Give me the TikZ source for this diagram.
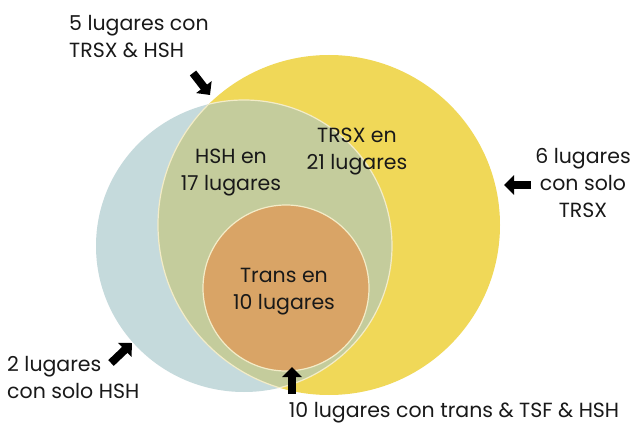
\documentclass[tikz,border=0pt]{standalone}
\usepackage{fontspec}
\setmainfont{Poppins}
\usetikzlibrary{arrows.meta}
\definecolor{cblue}{RGB}{197,218,220}
\definecolor{cyellow}{RGB}{240,216,88}
\definecolor{cgreen}{RGB}{196,204,156}
\definecolor{corange}{RGB}{217,164,102}
\definecolor{cline}{RGB}{243,236,200}
\definecolor{ctext}{RGB}{25,25,25}
\begin{document}
\begin{tikzpicture}[x=1pt,y=1pt,
  lbl/.style={font=\fontsize{20.5}{27}\selectfont, text=ctext, inner sep=0pt},
  blockarrow/.style={line width=8pt, -{Triangle[length=10pt,width=19pt]}, black},
  outline/.style={draw=cline, line width=1.2pt}]
\useasboundingbox (0,0) rectangle (632,429);
\fill[white] (0,0) rectangle (632,429);
\coordinate (B) at (244,183);
\coordinate (Y) at (329,204);
\coordinate (O) at (286,141);
\fill[cblue] (B) ellipse [x radius=148, y radius=146];
\fill[cyellow] (Y) ellipse [x radius=171, y radius=170];
\begin{scope}
  \clip (B) ellipse [x radius=148, y radius=146];
  \fill[cgreen] (Y) ellipse [x radius=171, y radius=170];
  \draw[outline] (Y) ellipse [x radius=171, y radius=170];
\end{scope}
\begin{scope}
  \clip (Y) ellipse [x radius=171, y radius=170];
  \draw[outline] (B) ellipse [x radius=148, y radius=146];
\end{scope}
\fill[corange, outline] (O) circle (83);

\node[lbl, align=left, anchor=west] (t5) at (69,392) {5 lugares con\\TRSX \& HSH};
\node[lbl, align=center] (thsh) at (231,256) {HSH en\\17 lugares};
\node[lbl, align=center] (ttrsx) at (357,277) {TRSX en\\21 lugares};
\node[lbl, align=center] (ttrans) at (284,137) {Trans en\\10 lugares};
\node[lbl, align=center] (t6) at (583,246) {6 lugares\\con solo\\TRSX};
\node[lbl, align=left, anchor=west] (t2) at (7,51) {2 lugares\\con solo HSH};
\node[lbl] (t10) at (454,16) {10 lugares con trans \& TSF \& HSH};

\coordinate (a1s) at (193,356);
\coordinate (a1e) at (210,334);
\coordinate (a2s) at (531,244);
\coordinate (a2e) at (504,244);
\coordinate (a3s) at (292,35);
\coordinate (a3e) at (292,62);
\coordinate (a4s) at (111,66);
\coordinate (a4e) at (132,86);
\draw[blockarrow] (a1s) -- (a1e);
\draw[blockarrow] (a2s) -- (a2e);
\draw[blockarrow] (a3s) -- (a3e);
\draw[blockarrow] (a4s) -- (a4e);
\end{tikzpicture}
\end{document}
